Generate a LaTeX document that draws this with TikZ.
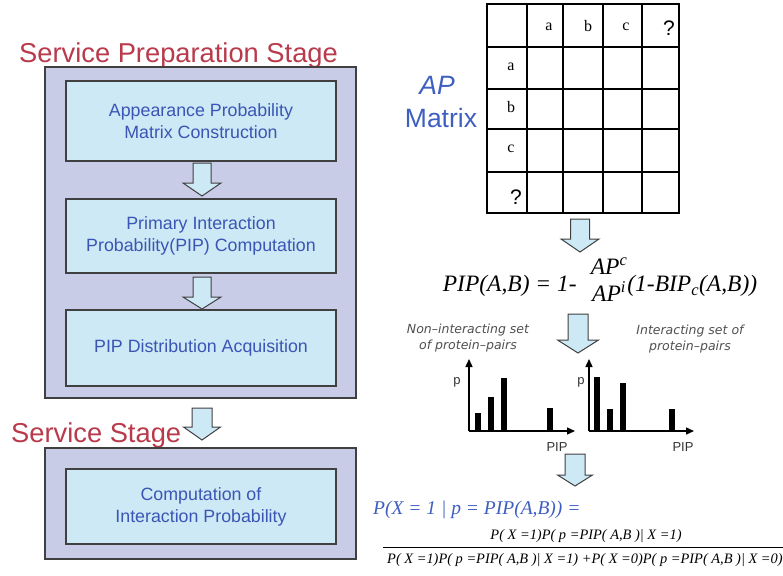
\documentclass[tikz,border=0pt]{standalone}
\usepackage{fontspec}
\setmainfont{Liberation Sans}
\newfontfamily\tms{Liberation Serif}
\newfontfamily\dvs{DejaVu Sans}
\usetikzlibrary{arrows.meta}
\definecolor{titlered}{HTML}{B83A4B}
\definecolor{boxtext}{HTML}{3A55B4}
\definecolor{apblue}{HTML}{3F5FC0}
\definecolor{outerc}{HTML}{C9CCE7}
\definecolor{innerc}{HTML}{CDE9F5}
\definecolor{bordc}{HTML}{404040}
\definecolor{capgray}{HTML}{505050}
\newcommand{\blkarrow}[6]{\draw[barrow] ({#1-#2},#3) -- ({#1+#2},#3) -- ({#1+#2},#4) -- ({#1+#5},#4) -- (#1,#6) -- ({#1-#5},#4) -- ({#1-#2},#4) -- cycle;}
\begin{document}
\begin{tikzpicture}[x=1pt,y=-1pt,
  outerbox/.style={draw=bordc, fill=outerc, line width=1.2pt, inner sep=0pt},
  innerbox/.style={draw=bordc, fill=innerc, line width=1.2pt, inner sep=0pt, align=center, text=boxtext, font=\fontsize{17.8}{22}\selectfont, minimum width=270pt},
  barrow/.style={draw=bordc, fill=innerc, line width=1pt, line join=miter},
  stagetitle/.style={text=titlered, font=\fontsize{27.3}{30}\selectfont, inner sep=0pt, anchor=west},
  cell/.style={font=\tms\fontsize{16}{17}\selectfont, inner sep=0pt},
  qcell/.style={font=\fontsize{21}{22}\selectfont, inner sep=0pt},
  axis/.style={line width=1.4pt, -{Triangle[length=8pt,width=7pt]}},
  bar/.style={line width=5.5pt},
  axlabel/.style={font=\fontsize{13}{14}\selectfont, text=black!80, inner sep=0pt},
  caption/.style={font=\dvs\itshape\fontsize{12.5}{16.5}\selectfont, text=capgray, align=center, inner sep=0pt},
  frm/.style={font=\tms\itshape\fontsize{14.4}{16}\selectfont, inner sep=0pt}
]
\useasboundingbox (0,0) rectangle (783,575);
\fill[white] (0,0) rectangle (783,575);

% ---- left column
\node[stagetitle] (t1) at (19,55) {Service Preparation Stage};
\node[outerbox, minimum width=311pt, minimum height=331pt] (stage1) at (200.5,232.5) {};
\node[innerbox, minimum height=80pt] (b1) at (201,121) {Appearance Probability\\Matrix Construction};
\node[innerbox, minimum height=74pt] (b2) at (201,236) {Primary Interaction\\Probability(PIP) Computation};
\node[innerbox, minimum height=76pt] (b3) at (201,348) {PIP Distribution Acquisition};
\blkarrow{202}{9}{163}{183}{19}{196}
\blkarrow{202}{9}{277}{297}{19}{309}
\blkarrow{202}{10}{408}{427}{18.5}{440}
\node[stagetitle] (t2) at (11,435) {Service Stage};
\node[outerbox, minimum width=311pt, minimum height=111pt] (stage2) at (200.5,503.5) {};
\node[innerbox, minimum height=75pt] (b4) at (201,506.5) {Computation of\\Interaction Probability};

% ---- AP matrix
\node[font=\itshape\fontsize{26.5}{28}\selectfont, text=apblue, inner sep=0pt] (ap) at (437,85) {AP};
\node[font=\fontsize{26.5}{28}\selectfont, text=apblue, inner sep=0pt] (mx) at (441,118) {Matrix};
\foreach \x in {527,563,603,642} \draw[line width=1.4pt] (\x,4) -- (\x,213);
\foreach \y in {47,89,129,172} \draw[line width=1.8pt] (487,\y) -- (679,\y);
\draw[line width=2.4pt] (487,4) rectangle (679,213);
\node[cell] (ha) at (549,27) {a};
\node[cell] (hb) at (588,26) {b};
\node[cell] (hc) at (626,27) {c};
\node[qcell] (hq) at (669,28) {?};
\node[cell] (ra) at (511,67) {a};
\node[cell] (rb) at (511,107) {b};
\node[cell] (rc) at (511,149) {c};
\node[qcell] (rq) at (516,197) {?};

\blkarrow{580}{9.5}{219}{239}{19}{252}

% ---- PIP formula
\node[font=\tms\itshape\fontsize{23.5}{25}\selectfont, inner sep=0pt] (pip) at (600,283)
  {PIP(A,B) = 1-\hspace{0.6em}\raisebox{2.5pt}{\renewcommand{\arraystretch}{0.88}\begin{tabular}{@{}c@{}}AP\textsuperscript{c}\\AP\textsuperscript{i}\end{tabular}}(1-BIP\textsubscript{c}(A,B))};

\blkarrow{578}{10}{314}{340}{20.5}{353}

% ---- distributions
\node[caption] (c1) at (468,338) {Non–interacting set\\of protein–pairs};
\node[caption] (c2) at (690,339) {Interacting set of\\protein–pairs};
\coordinate (o1) at (469,431);
\coordinate (o2) at (589,431);
\draw[axis] (o1) -- (469,359);
\draw[axis] (o1) -- (575,431);
\draw[axis] (o2) -- (589,359);
\draw[axis] (o2) -- (694,431);
\draw[bar] (478,431) -- (478,413);
\draw[bar] (491,431) -- (491,397);
\draw[bar] (504,431) -- (504,378);
\draw[bar] (550,431) -- (550,408);
\draw[bar] (597,431) -- (597,377);
\draw[bar] (610,431) -- (610,409);
\draw[bar] (623,431) -- (623,383);
\draw[bar] (672,431) -- (672,409);
\node[axlabel] (p1) at (457,382) {p};
\node[axlabel] (p2) at (581,382) {p};
\node[axlabel] (x1) at (557,447) {PIP};
\node[axlabel] (x2) at (683,447) {PIP};

\blkarrow{575}{10}{454}{475}{17.5}{486}

% ---- Bayes formula
\node[font=\tms\itshape\fontsize{19.5}{21}\selectfont, text=apblue, inner sep=0pt, anchor=west] (bay) at (373,510)
  {P(X = 1 | p = PIP(A,B)) =};
\node[frm] (num) at (586,536) {P( X =1)P( p =PIP( A,B )| X =1)};
\coordinate (fl) at (383,547);
\coordinate (fr) at (795,547);
\draw[line width=0.8pt] (fl) -- (fr);
\node[frm, anchor=west] (den) at (387,560) {P( X =1)P( p =PIP( A,B )| X =1) +P( X =0)P( p =PIP( A,B )| X =0)};
\end{tikzpicture}
\end{document}
